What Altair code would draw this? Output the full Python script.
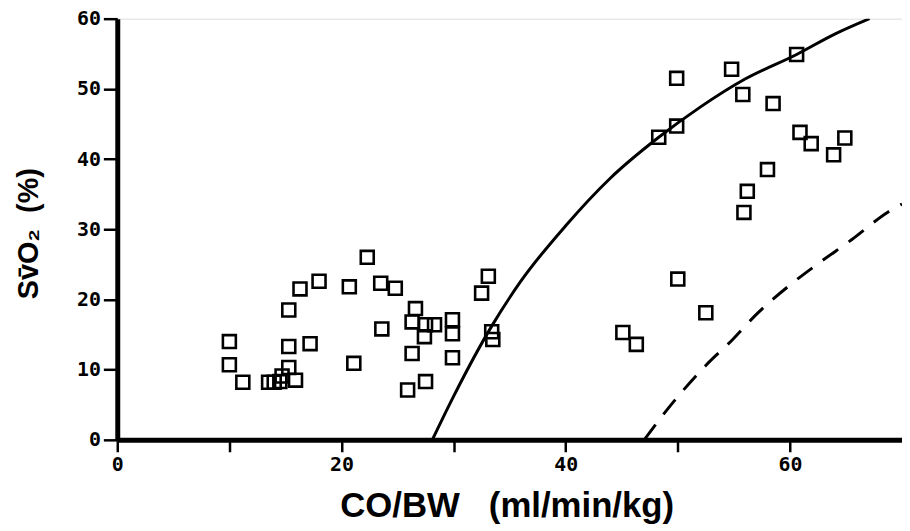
import altair as alt
import pandas as pd

# Scatter points (CO/BW ml/min/kg, SvO2 %)
pt_x = [10.0, 10.0, 11.2, 13.5, 14.0, 14.5, 14.7, 15.3, 15.9, 15.3, 17.2,
        15.3, 16.3, 18.0, 20.7, 22.3, 23.5, 24.8, 21.1, 23.6, 25.9, 26.3,
        26.3, 26.6, 27.5, 28.3, 27.4, 27.5, 29.9, 29.9, 29.9, 32.5, 33.1,
        33.4, 33.5, 45.1, 46.3, 50.0, 52.5, 48.3, 49.9, 49.9, 54.8, 55.8,
        58.5, 60.6, 60.9, 61.9, 64.9, 63.9, 58.0, 56.2, 55.9]
pt_y = [14.0, 10.7, 8.2, 8.2, 8.2, 8.3, 9.1, 10.3, 8.5, 13.3, 13.7,
        18.5, 21.5, 22.6, 21.8, 26.0, 22.3, 21.6, 10.9, 15.8, 7.1, 12.3,
        16.8, 18.7, 16.4, 16.4, 14.7, 8.3, 17.1, 15.1, 11.7, 20.9, 23.3,
        15.4, 14.3, 15.3, 13.6, 22.9, 18.1, 43.1, 44.7, 51.5, 52.8, 49.2,
        47.9, 54.9, 43.8, 42.2, 43.0, 40.6, 38.5, 35.4, 32.4]

# Solid curve
solid_x = [28.1, 30.0, 33.4, 36.0, 40.0, 44.0, 48.3, 52.0, 56.0, 60.6, 64.0, 67.1]
solid_y = [0.0, 6.2, 16.2, 22.6, 30.5, 37.3, 43.1, 47.4, 51.4, 54.9, 57.8, 60.0]

# Dashed curve
dash_x = [47.0, 49.0, 52.5, 54.9, 56.9, 60.2, 62.6, 65.5, 68.8, 70.0]
dash_y = [0.0, 4.2, 10.6, 14.3, 17.7, 22.3, 25.2, 28.5, 32.5, 33.6]

x_ticks = [0, 10, 20, 30, 40, 50, 60]
y_ticks = [0, 10, 20, 30, 40, 50, 60]

pts = pd.DataFrame({"x": pt_x, "y": pt_y})
solid = pd.DataFrame({"x": solid_x, "y": solid_y})
dashed = pd.DataFrame({"x": dash_x, "y": dash_y})

W, H = 790, 424
xscale = alt.Scale(domain=[0, 70.0], nice=False, zero=False)
yscale = alt.Scale(domain=[0, 60], nice=False, zero=False)

LABEL_FONT = "DejaVu Sans Mono"
TITLE_FONT = "Liberation Sans"
NB = "\u00a0"

xaxis = alt.Axis(
    title="CO/BW" + NB * 3 + "(ml/min/kg)", values=x_ticks,
    labelExpr="datum.value % 20 == 0 ? datum.label : ''",
    titleX=392, titleY=77, titleBaseline="alphabetic", titleAlign="center",
    titleFontSize=35, tickSize=12, labelPadding=3,
)
yaxis = alt.Axis(
    title="Sv\u0304O\u2082" + NB * 2 + "(%)",
    values=y_ticks,
    titleX=-89, titleY=216, titleAngle=270, titleFontSize=29,
    titleBaseline="middle", titleAlign="center", tickSize=14, labelPadding=3,
)

X = alt.X("x:Q", scale=xscale, axis=xaxis)
Y = alt.Y("y:Q", scale=yscale, axis=yaxis)

scatter = alt.Chart(pts).mark_point(
    shape="square", filled=False, color="black", strokeWidth=2.6, size=170,
    opacity=1,
).encode(x=X, y=Y)

line_solid = alt.Chart(solid).mark_line(
    color="black", strokeWidth=3, interpolate="monotone", clip=True,
).encode(x=X, y=Y)

line_dash = alt.Chart(dashed).mark_line(
    color="black", strokeWidth=3, interpolate="monotone", clip=True,
    strokeDash=[19, 13],
).encode(x=X, y=Y)

chart = alt.layer(line_solid, line_dash, scatter).properties(
    width=W, height=H,
    autosize=alt.AutoSizeParams(type="none"),
    padding={"left": 110, "top": 9, "right": 0, "bottom": 85},
).configure_view(stroke=None).configure(background="white").configure_axis(
    grid=False, domainColor="black", domainWidth=5, tickColor="black",
    tickWidth=2.5, labelFont=LABEL_FONT, labelFontWeight="bold",
    labelFontSize=20, labelColor="black", labelFlush=False,
    titleFont=TITLE_FONT, titleFontWeight="bold",
    titleColor="black", ticks=True, domain=True,
)

chart.save("out.html", embed_options={"renderer": "svg", "actions": False})
